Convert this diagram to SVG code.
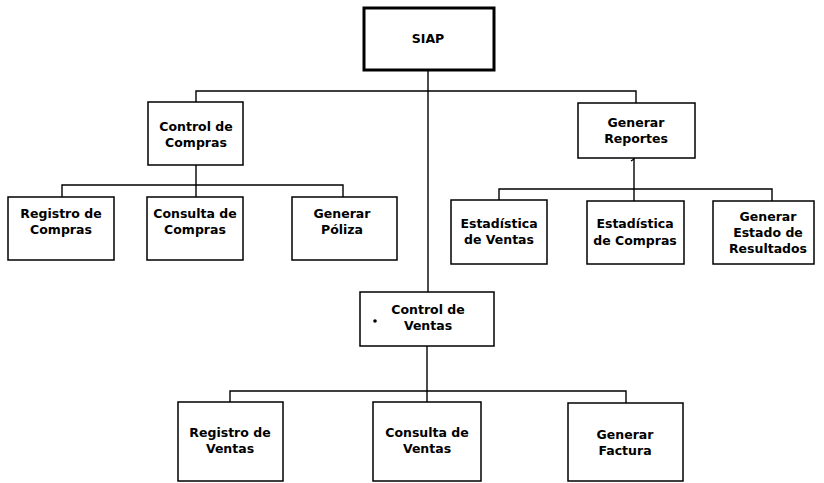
<svg xmlns="http://www.w3.org/2000/svg" width="824" height="483" viewBox="0 0 824 483">
<style>
.box{fill:#fff;stroke:#000;stroke-width:1.5}
.root{fill:#fff;stroke:#000;stroke-width:3}
.lbl{font-family:"DejaVu Sans","Liberation Sans",sans-serif;font-weight:bold;font-size:12.5px;fill:#000;text-anchor:middle}
.con{fill:none;stroke:#000;stroke-width:1.4}
</style>
<rect width="824" height="483" fill="#fff"/>
<g id="connectors" class="con">
<path d="M428 70V292"/>
<path d="M196 102V91H636V103"/>
<path d="M196 165V185"/>
<path d="M62 197V185H343V197"/>
<path d="M196 185V197"/>
<path d="M634 158V189"/>
<path d="M631 161L634 159"/>
<path d="M499 200V189H772V201"/>
<path d="M634 189V201"/>
<path d="M427 346V391"/>
<path d="M230 402V391H626V403"/>
<path d="M427 391V402"/>
</g>
<g id="siap">
<rect class="root" x="364" y="8" width="130" height="62"/>
<text class="lbl" x="428" y="43">SIAP</text>
</g>
<g id="control-compras">
<rect class="box" x="148" y="102" width="95" height="63"/>
<text class="lbl" x="196" y="131">Control de</text>
<text class="lbl" x="196" y="147">Compras</text>
</g>
<g id="registro-compras">
<rect class="box" x="8" y="197" width="106" height="63"/>
<text class="lbl" x="61" y="218">Registro de</text>
<text class="lbl" x="61" y="234">Compras</text>
</g>
<g id="consulta-compras">
<rect class="box" x="147" y="197" width="96" height="63"/>
<text class="lbl" x="195" y="218">Consulta de</text>
<text class="lbl" x="195" y="234">Compras</text>
</g>
<g id="generar-poliza">
<rect class="box" x="292" y="197" width="105" height="63"/>
<text class="lbl" x="342" y="218">Generar</text>
<text class="lbl" x="342" y="234">Póliza</text>
</g>
<g id="generar-reportes">
<rect class="box" x="578" y="103" width="117" height="55"/>
<text class="lbl" x="636" y="127">Generar</text>
<text class="lbl" x="636" y="143">Reportes</text>
</g>
<g id="estadistica-ventas">
<rect class="box" x="451" y="200" width="96" height="64"/>
<text class="lbl" x="499" y="228">Estadística</text>
<text class="lbl" x="499" y="244">de Ventas</text>
</g>
<g id="estadistica-compras">
<rect class="box" x="587" y="201" width="97" height="63"/>
<text class="lbl" x="635" y="228">Estadística</text>
<text class="lbl" x="635" y="245">de Compras</text>
</g>
<g id="generar-estado">
<rect class="box" x="713" y="201" width="101" height="63"/>
<text class="lbl" x="768" y="221">Generar</text>
<text class="lbl" x="768" y="237">Estado de</text>
<text class="lbl" x="768" y="253">Resultados</text>
</g>
<g id="control-ventas">
<rect class="box" x="360" y="292" width="134" height="54"/>
<circle cx="375" cy="321" r="1.8" fill="#000"/>
<text class="lbl" x="428" y="314">Control de</text>
<text class="lbl" x="428" y="330">Ventas</text>
</g>
<g id="registro-ventas">
<rect class="box" x="178" y="402" width="105" height="79"/>
<text class="lbl" x="230" y="437">Registro de</text>
<text class="lbl" x="230" y="453">Ventas</text>
</g>
<g id="consulta-ventas">
<rect class="box" x="373" y="402" width="108" height="79"/>
<text class="lbl" x="427" y="437">Consulta de</text>
<text class="lbl" x="427" y="453">Ventas</text>
</g>
<g id="generar-factura">
<rect class="box" x="568" y="403" width="115" height="78"/>
<text class="lbl" x="625" y="439">Generar</text>
<text class="lbl" x="625" y="455">Factura</text>
</g>
</svg>
